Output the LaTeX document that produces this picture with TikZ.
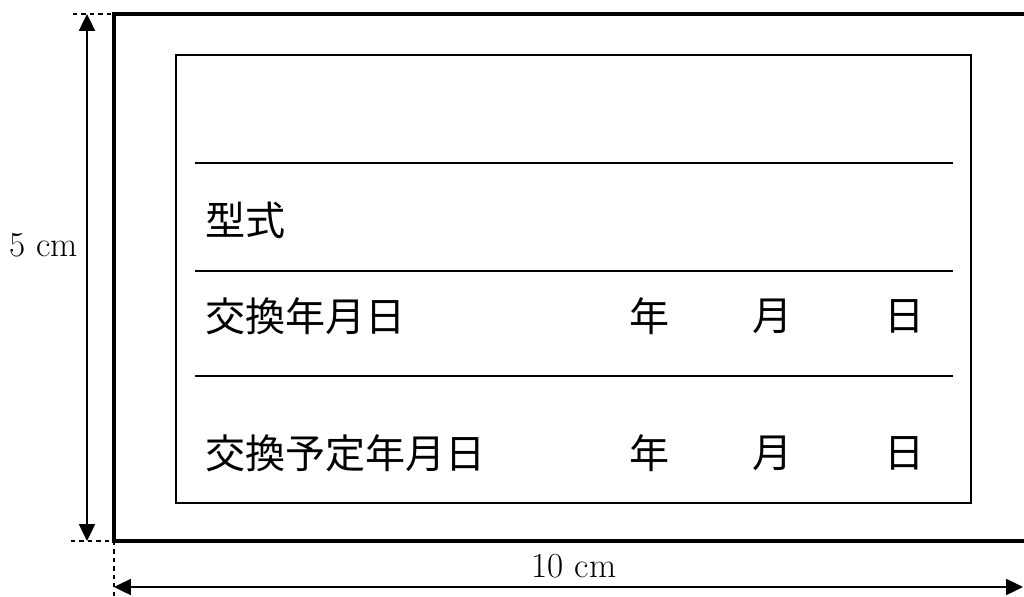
\documentclass[tikz,border=0pt]{standalone}
\usepackage{fontspec}
\newfontfamily\jpfont{Noto Sans CJK JP}
\usetikzlibrary{arrows.meta,positioning}

\begin{document}
\begin{tikzpicture}[x=0.025cm,y=-0.025cm,
    field/.style={font=\jpfont\fontsize{28.5}{30}\selectfont,inner sep=0pt},
    dimtext/.style={font=\fontsize{25}{27}\selectfont,inner sep=0pt},
    dimline/.style={line width=1.2pt,{Triangle[length=4.2mm,width=4mm]}-{Triangle[length=4.2mm,width=4mm]}}]
  \useasboundingbox (0,0) rectangle (1024,597);
  \coordinate (TL) at (114,14);
  \coordinate (BL) at (114,541);
  \coordinate (VT) at (87,14);
  \coordinate (VB) at (87,541);
  \coordinate (HL) at (114,587);
  \coordinate (HR) at (1023,587);
  % label frame
  \draw[line width=2.2pt] (TL) rectangle (1040,541);
  \draw[line width=1.7pt] (176,55) rectangle (971,503);
  \foreach \y in {163,271,376}
    \draw[line width=1pt] (195,\y) -- (953,\y);
  % texts
  \node[field,anchor=west] (type) at (205,220) {型式};
  \node[field,anchor=west] (done) at (205,316) {交換年月日};
  \node[field,anchor=west] (next) at (205,453) {交換予定年月日};
  \node[field] (year1) at (650,316) {年};
  \node[field] (month1) at (773,316) {月};
  \node[field] (day1) at (905,316) {日};
  \node[field] (year2) at (650,453) {年};
  \node[field] (month2) at (773,453) {月};
  \node[field] (day2) at (905,453) {日};
  % dimensions
  \draw[dashed,line width=1.2pt] (73,14) -- (TL);
  \draw[dashed,line width=1.2pt] (71,541) -- (BL);
  \draw[dashed,line width=1.2pt] (BL) -- (114,597);
  \draw[dimline] (VT) -- (VB);
  \draw[dimline] (HL) -- (HR);
  \node[dimtext] (height) at (44,245) {5 cm};
  \node[dimtext] (width) at (574,566) {10 cm};
\end{tikzpicture}
\end{document}
